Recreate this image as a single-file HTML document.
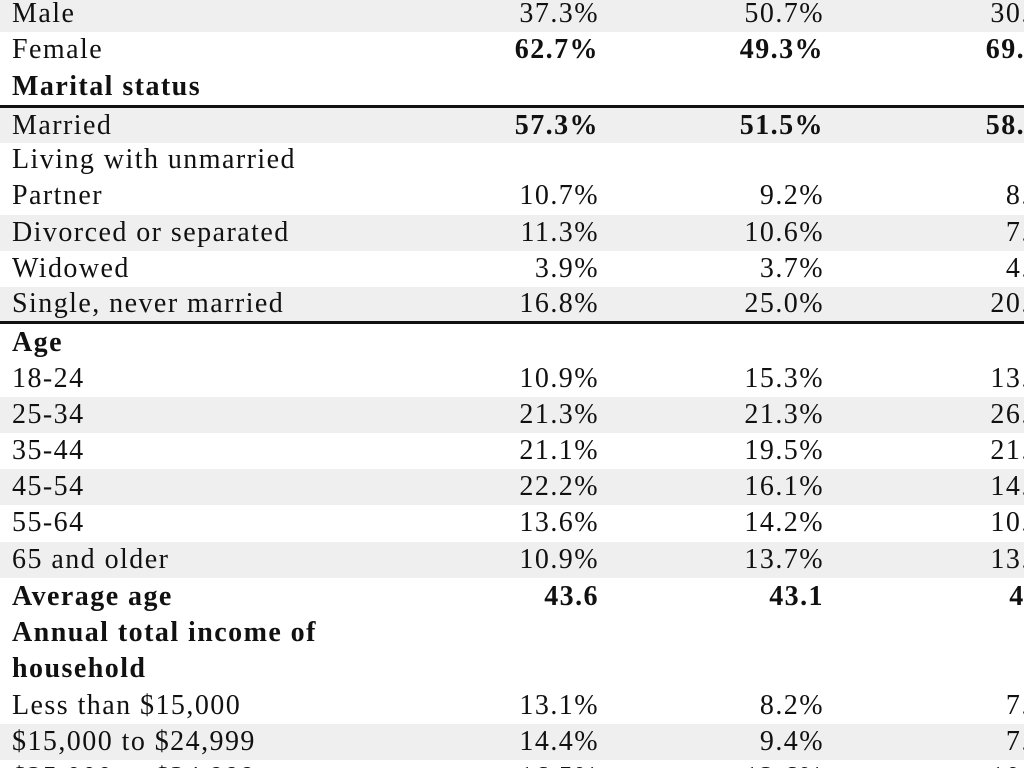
<!DOCTYPE html>
<html><head><meta charset="utf-8"><style>
html,body{margin:0;padding:0;width:1024px;height:768px;overflow:hidden;background:#fff}
body{position:relative;font-family:"Liberation Serif",serif;font-size:28px;color:#111;letter-spacing:1.45px}
.r{position:absolute;left:0;width:1024px;height:36px}
.g{background:#efefef}
.t{position:absolute;top:0;line-height:36px;white-space:nowrap}
.l{left:12px}
.a{right:425px}.b{right:200px}.c{right:-46px}
.bd{font-weight:bold}
.line{position:absolute;left:0;width:1024px;height:3px;background:#111}
</style></head><body>
<div class="r g" style="top:-4px"><span class="t l">Male</span><span class="t a">37.3%</span><span class="t b">50.7%</span><span class="t c">30.9%</span></div>
<div class="r" style="top:32px"><span class="t l">Female</span><span class="t a bd">62.7%</span><span class="t b bd">49.3%</span><span class="t c bd">69.9%</span></div>
<div class="r" style="top:69px"><span class="t l bd">Marital status</span></div>
<div class="line" style="top:105px"></div>
<div class="r g" style="top:108px;height:35px"><span class="t l">Married</span><span class="t a bd">57.3%</span><span class="t b bd">51.5%</span><span class="t c bd">58.9%</span></div>
<div class="r" style="top:142px"><span class="t l">Living with unmarried</span></div>
<div class="r" style="top:178px"><span class="t l">Partner</span><span class="t a">10.7%</span><span class="t b">9.2%</span><span class="t c">8.1%</span></div>
<div class="r g" style="top:215px"><span class="t l">Divorced or separated</span><span class="t a">11.3%</span><span class="t b">10.6%</span><span class="t c">7.8%</span></div>
<div class="r" style="top:251px"><span class="t l">Widowed</span><span class="t a">3.9%</span><span class="t b">3.7%</span><span class="t c">4.2%</span></div>
<div class="r g" style="top:287px;height:34px"><span class="t l" style="top:-1px">Single, never married</span><span class="t a" style="top:-1px">16.8%</span><span class="t b" style="top:-1px">25.0%</span><span class="t c" style="top:-1px">20.9%</span></div>
<div class="line" style="top:321px"></div>
<div class="r" style="top:325px"><span class="t l bd">Age</span></div>
<div class="r" style="top:361px"><span class="t l">18-24</span><span class="t a">10.9%</span><span class="t b">15.3%</span><span class="t c">13.1%</span></div>
<div class="r g" style="top:397px"><span class="t l">25-34</span><span class="t a">21.3%</span><span class="t b">21.3%</span><span class="t c">26.5%</span></div>
<div class="r" style="top:433px"><span class="t l">35-44</span><span class="t a">21.1%</span><span class="t b">19.5%</span><span class="t c">21.0%</span></div>
<div class="r g" style="top:469px"><span class="t l">45-54</span><span class="t a">22.2%</span><span class="t b">16.1%</span><span class="t c">14.9%</span></div>
<div class="r" style="top:505px"><span class="t l">55-64</span><span class="t a">13.6%</span><span class="t b">14.2%</span><span class="t c">10.6%</span></div>
<div class="r g" style="top:542px"><span class="t l">65 and older</span><span class="t a">10.9%</span><span class="t b">13.7%</span><span class="t c">13.8%</span></div>
<div class="r" style="top:579px"><span class="t l bd">Average age</span><span class="t a bd">43.6</span><span class="t b bd">43.1</span><span class="t c bd" style="right:-40px">42.9</span></div>
<div class="r" style="top:615px"><span class="t l bd">Annual total income of</span></div>
<div class="r" style="top:651px"><span class="t l bd">household</span></div>
<div class="r" style="top:688px"><span class="t l">Less than $15,000</span><span class="t a">13.1%</span><span class="t b">8.2%</span><span class="t c">7.9%</span></div>
<div class="r g" style="top:724px"><span class="t l">$15,000 to $24,999</span><span class="t a">14.4%</span><span class="t b">9.4%</span><span class="t c">7.5%</span></div>
<div class="r" style="top:760px"><span class="t l">$25,000 to $34,999</span><span class="t a">16.5%</span><span class="t b">12.6%</span><span class="t c">10.1%</span></div>
</body></html>
